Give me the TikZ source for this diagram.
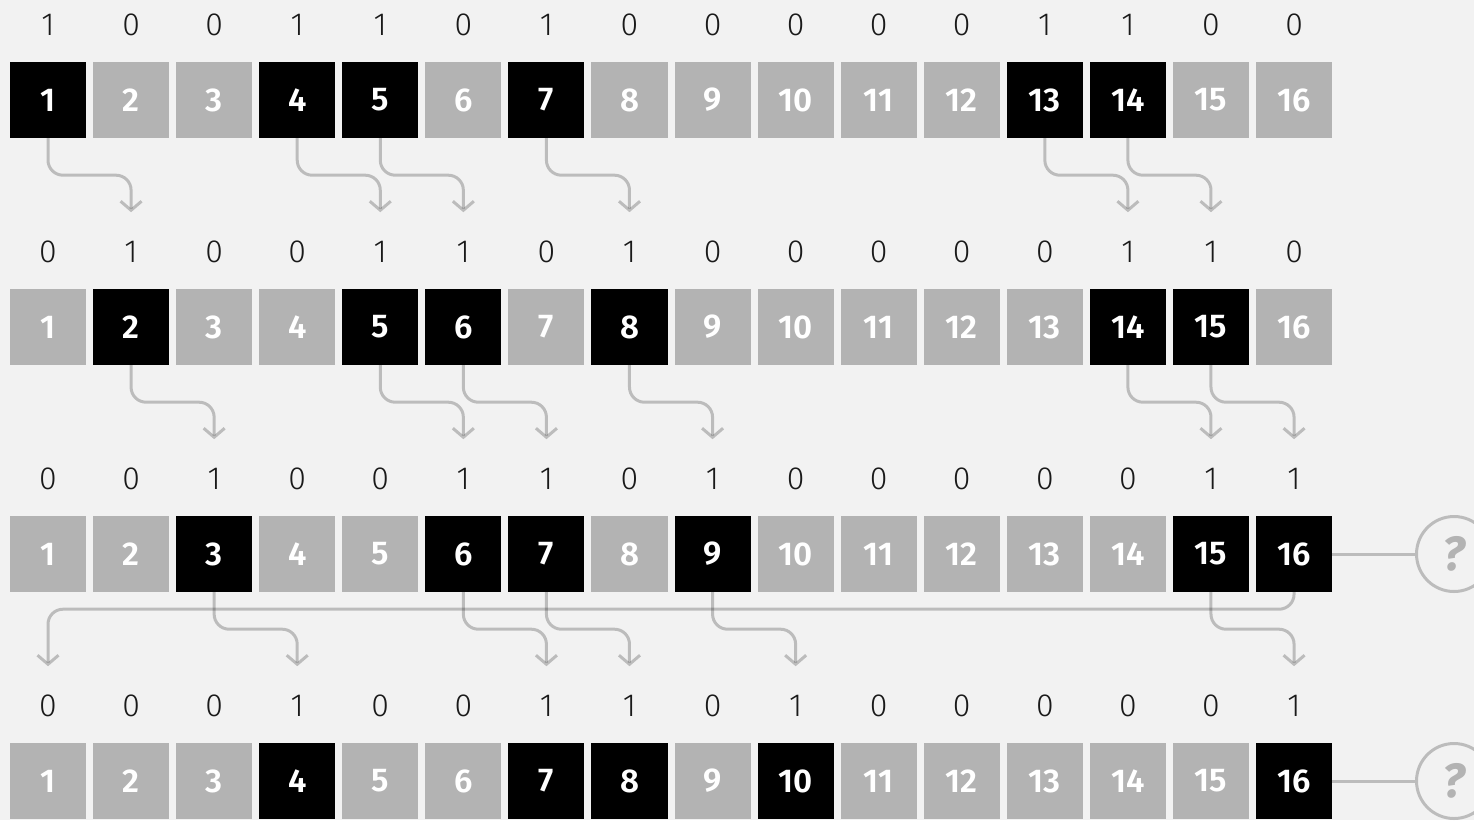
\documentclass[tikz,border=0pt]{standalone}
\usepackage{fontspec}
\setmainfont{Fira Sans Light}
\newfontfamily\boxfont{Fira Sans SemiBold}
\newfontfamily\qfont{Fira Sans Bold Italic}
\usetikzlibrary{arrows.meta,calc}
\definecolor{bg}{HTML}{F2F2F2}
\definecolor{boxgray}{HTML}{B3B3B3}
\definecolor{digit}{HTML}{1A1A1A}
\tikzset{
  cell/.style={minimum width=76pt,minimum height=76pt,inner sep=0pt,fill=boxgray,text=white,font=\boxfont\fontsize{33}{33}\selectfont},
  oncell/.style={cell,fill=black},
  bit/.style={inner sep=0pt,text=digit,font=\fontsize{32}{32}\selectfont},
  arr/.style={draw=black,draw opacity=0.22,line width=3pt,rounded corners=15pt,-{Straight Barb[length=9pt,width=21pt,line width=3pt]}},
  link/.style={draw=black,draw opacity=0.22,line width=3pt},
  qcirc/.style={circle,draw=black,draw opacity=0.22,line width=3pt,minimum size=75pt,inner sep=0pt,text=boxgray,font=\qfont\fontsize{48}{48}\selectfont}
}
\begin{document}
\begin{tikzpicture}[x=1pt,y=-1pt]
\fill[bg] (0,0) rectangle (1474,820);
\useasboundingbox (0,0) rectangle (1474,820);
% rows of cells and bits
\foreach \r/\bits in {1/{1,0,0,1,1,0,1,0,0,0,0,0,1,1,0,0},
                      2/{0,1,0,0,1,1,0,1,0,0,0,0,0,1,1,0},
                      3/{0,0,1,0,0,1,1,0,1,0,0,0,0,0,1,1},
                      4/{0,0,0,1,0,0,1,1,0,1,0,0,0,0,0,1}}{
  \foreach \b [count=\i] in \bits {
    \pgfmathsetmacro{\xx}{48+(\i-1)*83.07}
    \pgfmathsetmacro{\yy}{100+(\r-1)*227}
    \ifnum\b=1
      \node[oncell] (b\r-\i) at (\xx,\yy) {\i};
    \else
      \node[cell] (b\r-\i) at (\xx,\yy) {\i};
    \fi
    \node[bit] (d\r-\i) at (\xx,\yy-75) {\b};
  }
}
% shift arrows
\foreach \i/\j in {1/2,4/5,5/6,7/8,13/14,14/15}{
  \draw[arr] (b1-\i.south) -- ++(0,37) -| ($(b1-\j.south)+(0,74)$);
}
\foreach \i/\j in {2/3,5/6,6/7,8/9,14/15,15/16}{
  \draw[arr] (b2-\i.south) -- ++(0,37) -| ($(b2-\j.south)+(0,74)$);
}
\foreach \i/\j in {3/4,6/7,7/8,9/10,15/16}{
  \draw[arr] (b3-\i.south) -- ++(0,37) -| ($(b3-\j.south)+(0,74)$);
}
\draw[arr] (b3-16.south) -- ++(0,17) -| ($(b3-1.south)+(0,74)$);
% question circles
\node[qcirc] (q3) at (1454,554) {?};
\node[qcirc] (q4) at (1454,781) {?};
\draw[link] (b3-16.east) -- (q3.west);
\draw[link] (b4-16.east) -- (q4.west);
\end{tikzpicture}
\end{document}
